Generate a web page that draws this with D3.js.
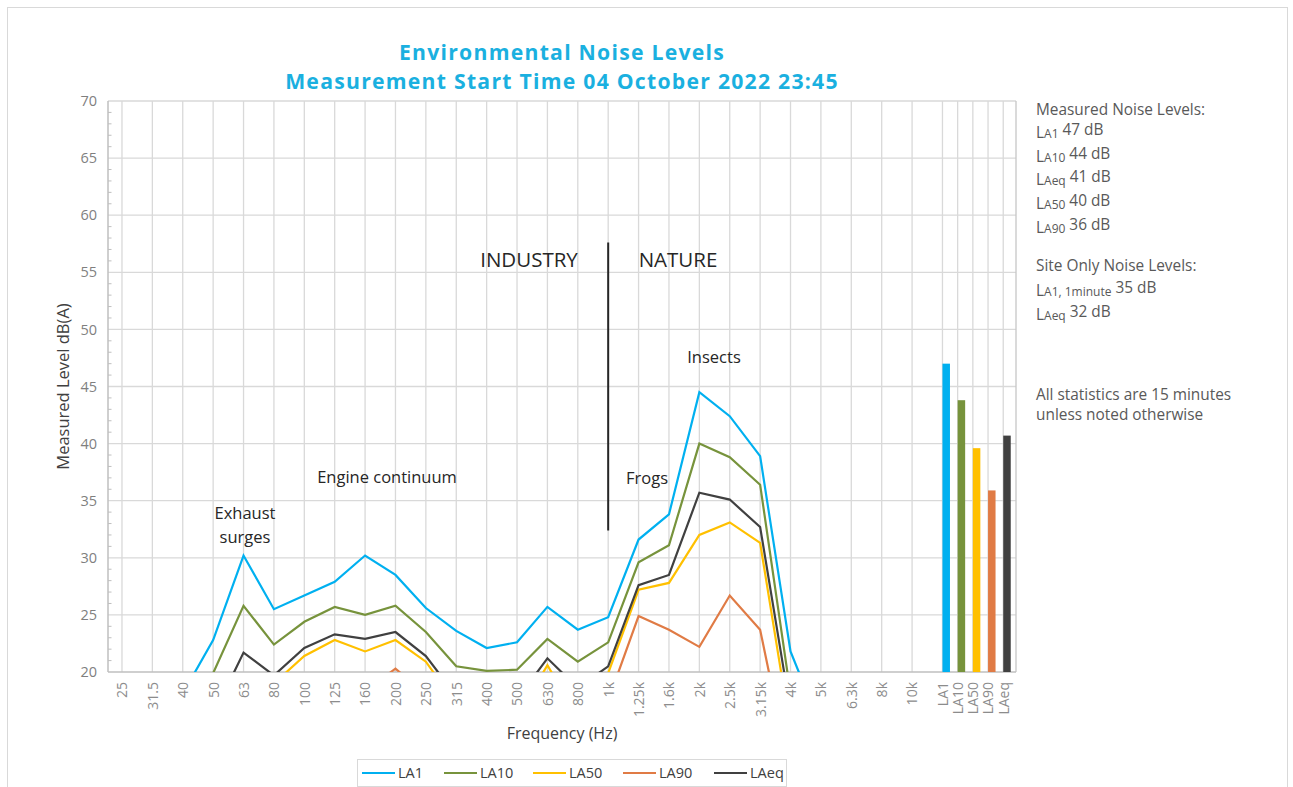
<!DOCTYPE html>
<html>
<head>
<meta charset="utf-8">
<script src="https://cdn.jsdelivr.net/npm/d3@7"></script>
<style>
  body { margin: 0; background: #fff; }
  text { font-family: "Open Sans", "DejaVu Sans", sans-serif; }
</style>
</head>
<body>
<script>
// octave band labels and the summary statistics shown as bars
const freqLabels = ["25", "31.5", "40", "50", "63", "80", "100", "125", "160", "200", "250", "315", "400", "500", "630", "800", "1k", "1.25k", "1.6k", "2k", "2.5k", "3.15k", "4k", "5k", "6.3k", "8k", "10k"]
const statLabels = ["LA1", "LA10", "LA50", "LA90", "LAeq"]

// dB(A); values under 20 fall below the axis
const la1  = [16.5, 17.0, 18.1, 22.8, 30.2, 25.5, 26.7, 27.9, 30.2, 28.5, 25.6, 23.6, 22.1, 22.6, 25.7, 23.7, 24.8, 31.6, 33.8, 44.5, 42.4, 38.9, 21.8, 15.2, 14.0, 13.0, 12.0]
const la10 = [14.0, 14.5, 15.5, 19.9, 25.8, 22.4, 24.4, 25.7, 25.0, 25.8, 23.5, 20.5, 20.1, 20.2, 22.9, 20.9, 22.6, 29.6, 31.1, 40.0, 38.8, 36.4, 18.1, 13.0, 12.0, 11.0, 10.5]
const la50 = [12.5, 13.0, 13.5, 15.5, 17.5, 19.0, 21.4, 22.8, 21.8, 22.8, 20.9, 17.2, 16.0, 16.0, 20.6, 16.0, 19.9, 27.2, 27.8, 32.0, 33.1, 31.3, 14.9, 11.0, 10.5, 10.0, 9.5]
const la90 = [10.0, 10.5, 11.0, 12.0, 14.0, 15.0, 16.5, 17.5, 18.3, 20.3, 18.0, 15.5, 14.5, 15.0, 16.5, 16.0, 17.5, 24.9, 23.7, 22.2, 26.7, 23.7, 10.9, 9.0, 8.5, 8.0, 7.5]
const laeq = [13.0, 13.5, 14.5, 16.2, 21.7, 19.7, 22.1, 23.3, 22.9, 23.5, 21.4, 17.9, 16.5, 17.6, 21.2, 18.6, 20.5, 27.6, 28.5, 35.7, 35.1, 32.7, 16.6, 12.0, 11.0, 10.5, 10.0]
const barValues = [47.0, 43.8, 39.6, 35.9, 40.7]

const seriesNames = ["LA1", "LA10", "LA50", "LA90", "LAeq"]
const seriesColors = ["#00B0F0", "#77933C", "#FFC000", "#E07B45", "#404040"]
const seriesData = [la1, la10, la50, la90, laeq]

const w = 1293
const h = 787
const pLeft = 108, pRight = 1016, pTop = 101, pBottom = 672

const svg = d3.select("body").append("svg").attr("width", w).attr("height", h)

// outer chart border
svg.append("rect").attr("x", 7.5).attr("y", 7.5).attr("width", 1280).attr("height", 820).attr("fill", "none").attr("stroke", "#D9D9D9")

// stats columns sit at half steps after the frequency bands
const catPos = freqLabels.map((d, i) => i).concat(statLabels.map((d, i) => 27 + i * 0.5))
const allLabels = freqLabels.concat(statLabels)
const x = d3.scaleLinear().domain([-0.46, 29.42]).range([pLeft, pRight])
const xCat = d3.scaleOrdinal().domain(allLabels).range(catPos.map(p => x(p)))
const y = d3.scaleLinear().domain([20, 70]).range([pBottom, pTop])

// grid
const grid = svg.append("g")
grid.selectAll(".hg").data(d3.range(25, 71, 5)).enter().append("line")
  .attr("x1", pLeft).attr("x2", pRight).attr("y1", d => y(d)).attr("y2", d => y(d))
  .attr("stroke", "#D9D9D9").attr("stroke-width", 1.3)
grid.selectAll(".vg").data(catPos).enter().append("line")
  .attr("x1", d => x(d)).attr("x2", d => x(d)).attr("y1", pTop).attr("y2", pBottom)
  .attr("stroke", "#D9D9D9").attr("stroke-width", 1.3)
grid.append("line").attr("x1", pRight).attr("x2", pRight).attr("y1", pTop).attr("y2", pBottom).attr("stroke", "#C6C6C6").attr("stroke-width", 1.3)
grid.append("line").attr("x1", pLeft).attr("x2", pRight).attr("y1", pBottom).attr("y2", pBottom).attr("stroke", "#BFBFBF").attr("stroke-width", 1.5)
grid.append("line").attr("x1", pLeft).attr("x2", pLeft).attr("y1", pTop).attr("y2", pBottom).attr("stroke", "#BFBFBF").attr("stroke-width", 1.5)
grid.selectAll(".mt").data(d3.range(21, 70).filter(d => d % 5 !== 0)).enter().append("line")
  .attr("x1", pLeft).attr("x2", pLeft + 3.5).attr("y1", d => y(d)).attr("y2", d => y(d))
  .attr("stroke", "#BFBFBF")

// axes
const yAxis = svg.append("g").attr("transform", "translate(" + pLeft + ",0)")
  .call(d3.axisLeft(y).tickValues(d3.range(20, 71, 5)).tickSize(0).tickPadding(11))
yAxis.select(".domain").remove()
yAxis.selectAll("text").attr("fill", "#7F7F7F").style("font-size", "14.5px").style("font-family", "Open Sans")

const xAxis = svg.append("g").attr("transform", "translate(0," + pBottom + ")")
  .call(d3.axisBottom(xCat).tickSize(0))
xAxis.select(".domain").remove()
xAxis.selectAll(".tick text").attr("fill", "#8C8C8C").style("font-size", "14px").style("font-family", "Open Sans")
  .attr("text-anchor", "end").attr("transform", "rotate(-90)").attr("x", -10).attr("y", 0).attr("dy", "0.35em")

svg.append("text").attr("transform", "translate(69," + ((pTop + pBottom) / 2) + ") rotate(-90)")
  .attr("text-anchor", "middle").attr("fill", "#404040").style("font-size", "16.5px").text("Measured Level dB(A)")
svg.append("text").attr("x", 562).attr("y", 739).attr("text-anchor", "middle")
  .attr("fill", "#404040").style("font-size", "16px").text("Frequency (Hz)")

// title
svg.append("text").attr("x", 562).attr("y", 60).attr("text-anchor", "middle").attr("fill", "#1AB0E0")
  .style("font-size", "21.2px").style("font-weight", "700").style("letter-spacing", "1.25px").text("Environmental Noise Levels")
svg.append("text").attr("x", 562).attr("y", 89).attr("text-anchor", "middle").attr("fill", "#1AB0E0")
  .style("font-size", "21.2px").style("font-weight", "700").style("letter-spacing", "1.25px").text("Measurement Start Time 04 October 2022 23:45")

// lines
svg.append("clipPath").attr("id", "plot").append("rect").attr("x", pLeft).attr("y", pTop).attr("width", pRight - pLeft).attr("height", pBottom - pTop)
const line = d3.line().x((d, i) => x(i)).y(d => y(d))
svg.append("g").attr("clip-path", "url(#plot)").selectAll("path").data(seriesData).enter().append("path")
  .attr("d", d => line(d)).attr("fill", "none").attr("stroke", (d, i) => seriesColors[i])
  .attr("stroke-width", 2.2).attr("stroke-linejoin", "miter")

// summary bars
svg.selectAll(".bar").data(barValues).enter().append("rect")
  .attr("x", (d, i) => xCat(statLabels[i])).attr("y", d => y(d))
  .attr("width", 7.5).attr("height", d => y(20) - y(d)).attr("fill", (d, i) => seriesColors[i])

// annotations
const ann = svg.append("g").attr("fill", "#262626")
ann.append("line").attr("x1", x(16)).attr("x2", x(16)).attr("y1", y(57.6)).attr("y2", y(32.4)).attr("stroke", "#262626").attr("stroke-width", 2)
ann.append("text").attr("x", 529).attr("y", 267).attr("text-anchor", "middle").style("font-size", "20.5px").text("INDUSTRY")
ann.append("text").attr("x", 678).attr("y", 267).attr("text-anchor", "middle").style("font-size", "20.5px").text("NATURE")
ann.append("text").attr("x", 714).attr("y", 363).attr("text-anchor", "middle").style("font-size", "16.5px").text("Insects")
ann.append("text").attr("x", 647).attr("y", 484).attr("text-anchor", "middle").style("font-size", "16.5px").text("Frogs")
ann.append("text").attr("x", 387).attr("y", 483).attr("text-anchor", "middle").style("font-size", "16.5px").text("Engine continuum")
const exh = ann.append("text").attr("y", 519).attr("text-anchor", "middle").style("font-size", "16.5px")
exh.append("tspan").attr("x", 245).text("Exhaust")
exh.append("tspan").attr("x", 245).attr("dy", 24).text("surges")

// side notes
const notes = [
  {y: 115, plain: "Measured Noise Levels:"},
  {y: 135, sub: "A1", rest: " 47 dB"},
  {y: 159, sub: "A10", rest: " 44 dB"},
  {y: 182, sub: "Aeq", rest: " 41 dB"},
  {y: 206, sub: "A50", rest: " 40 dB"},
  {y: 230, sub: "A90", rest: " 36 dB"},
  {y: 271, plain: "Site Only Noise Levels:"},
  {y: 293, sub: "A1, 1minute", rest: " 35 dB"},
  {y: 317, sub: "Aeq", rest: " 32 dB"},
  {y: 400, plain: "All statistics are 15 minutes"},
  {y: 420, plain: "unless noted otherwise"}
]
notes.forEach(n => {
  const t = svg.append("text").attr("x", 1036).attr("y", n.y).attr("fill", "#595959").style("font-size", "15.4px")
  if (n.plain) { t.text(n.plain); return }
  t.append("tspan").attr("dy", 3).text("L")
  t.append("tspan").style("font-size", "12px").text(n.sub)
  t.append("tspan").attr("dy", -3).text(n.rest)
})

// legend
const lg = svg.append("g")
lg.append("rect").attr("x", 357.5).attr("y", 759.5).attr("width", 429).attr("height", 27).attr("fill", "#fff").attr("stroke", "#D9D9D9")
const lgX = [362, 444, 533, 623, 714]
seriesNames.forEach((s, i) => {
  lg.append("line").attr("x1", lgX[i]).attr("x2", lgX[i] + 33).attr("y1", 773).attr("y2", 773).attr("stroke", seriesColors[i]).attr("stroke-width", 2.2)
  lg.append("text").attr("x", lgX[i] + 36).attr("y", 778).attr("fill", "#404040").style("font-size", "14.5px").text(s)
})
</script>
</body>
</html>
